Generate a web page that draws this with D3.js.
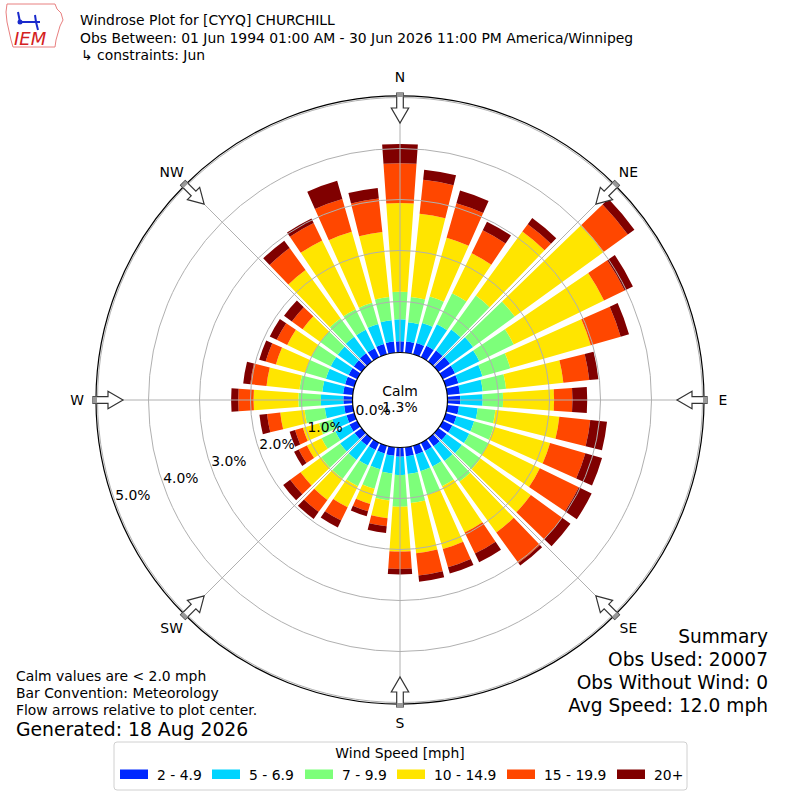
<!DOCTYPE html>
<html><head><meta charset="utf-8">
<script src="https://cdn.jsdelivr.net/npm/d3@7"></script>
<style>body{margin:0;background:#fff}svg{display:block}text{font-family:"DejaVu Sans",sans-serif}</style>
</head><body>
<script>
// ---- data (percent of observations) ----
const directions = [0,10,20,30,40,50,60,70,80,90,100,110,120,130,140,150,160,170,180,190,200,210,220,230,240,250,260,270,280,290,300,310,320,330,340,350];
const speedBins = ["2 - 4.9","5 - 6.9","7 - 9.9","10 - 14.9","15 - 19.9","20+"];
const binColors = ["#0028ff","#00d4ff","#7dff7a","#ffe500","#ff4700","#800000"];
const spd2_5   = [0.22,0.22,0.23,0.25,0.27,0.28,0.27,0.26,0.25,0.25,0.23,0.22,0.21,0.20,0.19,0.18,0.18,0.18,0.18,0.17,0.16,0.16,0.17,0.17,0.17,0.16,0.17,0.18,0.19,0.19,0.19,0.19,0.20,0.20,0.21,0.22];
const spd5_7   = [0.43,0.38,0.41,0.47,0.51,0.56,0.53,0.49,0.45,0.44,0.37,0.36,0.37,0.37,0.36,0.34,0.34,0.35,0.36,0.35,0.32,0.34,0.35,0.35,0.31,0.29,0.38,0.44,0.41,0.39,0.39,0.39,0.40,0.40,0.41,0.42];
const spd7_10  = [0.54,0.50,0.54,0.68,0.82,1.01,0.75,0.57,0.46,0.40,0.35,0.40,0.42,0.45,0.50,0.43,0.48,0.57,0.62,0.53,0.40,0.45,0.46,0.46,0.30,0.27,0.40,0.44,0.45,0.42,0.42,0.42,0.45,0.45,0.43,0.46];
const spd10_15 = [1.74,1.64,1.20,0.87,1.55,2.16,1.97,1.64,1.13,1.00,1.26,1.15,1.12,1.22,1.23,1.01,1.11,0.99,0.88,0.35,0.31,0.46,0.51,0.50,0.32,0.33,0.48,0.88,0.65,0.60,0.53,0.43,1.17,1.50,1.45,1.28];
const spd15_20 = [0.78,0.67,0.70,0.50,0.18,0.58,0.45,0.61,0.51,0.36,0.61,0.72,0.85,0.76,0.74,0.46,0.37,0.44,0.34,0.16,0.15,0.29,0.29,0.25,0.18,0.16,0.26,0.30,0.32,0.21,0.23,0.26,0.53,0.38,0.67,0.66];
const spd20p   = [0.38,0.20,0.26,0.19,0.15,0.16,0.18,0.17,0.18,0.29,0.33,0.34,0.28,0.20,0.06,0.19,0.13,0.12,0.11,0.13,0.10,0.15,0.17,0.17,0.10,0.11,0.15,0.14,0.14,0.13,0.15,0.19,0.18,0.10,0.37,0.21];
const radialTicks = [0,1,2,3,4,5];
const compassLabels = ["N","NE","E","SE","S","SW","W","NW"];
const compassAngles = [0,45,90,135,180,225,270,315];
const calmPct = 1.3;
const titleLines = ["Windrose Plot for [CYYQ] CHURCHILL","Obs Between: 01 Jun 1994 01:00 AM - 30 Jun 2026 11:00 PM America/Winnipeg","\u21B3 constraints: Jun"];
const leftNotes = ["Calm values are < 2.0 mph","Bar Convention: Meteorology","Flow arrows relative to plot center."];
const generated = "Generated: 18 Aug 2026";
const summaryLines = ["Summary","Obs Used: 20007","Obs Without Wind: 0","Avg Speed: 12.0 mph"];

const series = [spd2_5,spd5_7,spd7_10,spd10_15,spd15_20,spd20p];
const FS = 13.9;

const W = 800, H = 800, cx = 400, cy = 400;
const svg = d3.select("body").append("svg").attr("width",W).attr("height",H);

const r = d3.scaleLinear().domain([0,5]).range([47.5,302.5]);
const rad = d => d*Math.PI/180;

const g = svg.append("g").attr("transform",`translate(${cx},${cy})`);

// bars
const stackData = [];
directions.forEach((d,i)=>{
  let cum = 0;
  series.forEach((s,k)=>{
    stackData.push({dir:d, k:k, v0:cum, v1:cum+s[i]});
    cum += s[i];
  });
});
const half = 4;
const arc = d3.arc()
  .innerRadius(d=>r(d.v0)).outerRadius(d=>r(d.v1))
  .startAngle(d=>rad(d.dir-half)).endAngle(d=>rad(d.dir+half));
g.append("g").selectAll("path").data(stackData).join("path")
  .attr("d",arc).attr("fill",d=>binColors[d.k]);

// grid on top
const grid = g.append("g").attr("fill","none").attr("stroke","#b0b0b0").attr("stroke-width",1);
radialTicks.filter(t=>t>0).forEach(t=>{
  grid.append("circle").attr("r",r(t));
});
compassAngles.forEach(a=>{
  grid.append("line")
    .attr("x1",0).attr("y1",0)
    .attr("x2",r(5.05)*Math.sin(rad(a))).attr("y2",-r(5.05)*Math.cos(rad(a)));
});
// outer spine
g.append("circle").attr("r",r(5.03)).attr("fill","none").attr("stroke","#000").attr("stroke-width",1.2);

// calm circle
g.append("circle").attr("r",r(0)).attr("fill","#fff").attr("stroke","#000").attr("stroke-width",1.2);
g.append("text").attr("x",0).attr("y",-9).attr("text-anchor","middle").attr("dominant-baseline","central")
  .attr("font-size",FS).text("Calm");
g.append("text").attr("x",0).attr("y",7).attr("text-anchor","middle").attr("dominant-baseline","central")
  .attr("font-size",FS).text(calmPct.toFixed(1)+"%");

// radial labels
const labAng = rad(250.5);
radialTicks.forEach(t=>{
  const rr = r(t)-19;
  g.append("text").attr("x",rr*Math.sin(labAng)).attr("y",-rr*Math.cos(labAng))
    .attr("text-anchor","middle").attr("dominant-baseline","central")
    .attr("font-size",FS).text(t.toFixed(1)+"%");
});

// compass arrows and labels
const arrowPath = "M-3.3,-307 L3.3,-307 L3.3,-292 L8.7,-292 L0,-277 L-8.7,-292 L-3.3,-292 Z";
compassAngles.forEach((a,i)=>{
  g.append("path").attr("d",arrowPath).attr("transform",`rotate(${a})`)
    .attr("fill","#fff").attr("stroke","#333").attr("stroke-width",1.2);
  g.append("rect").attr("x",-3.3).attr("y",-307).attr("width",6.6).attr("height",4)
    .attr("transform",`rotate(${a})`).attr("fill","#999");
  const lr = 323;
  g.append("text").attr("x",lr*Math.sin(rad(a))).attr("y",-lr*Math.cos(rad(a)))
    .attr("text-anchor","middle").attr("dominant-baseline","central")
    .attr("font-size",FS).text(compassLabels[i]);
});

// title
titleLines.forEach((t,i)=>{
  svg.append("text").attr("x",i==2?81:80).attr("y",20+i*17.5).attr("dominant-baseline","central")
    .attr("font-size",FS).text(t);
});

// logo
const logo = svg.append("g");
logo.append("path").attr("d","M7,4 L55,4 L57,9 L61,13 L63,20 L60,26 L58,33 L56,40 L55,47 L13,47 L11,40 L9,31 L7,22 L6,12 Z")
  .attr("fill","none").attr("stroke","#e88080").attr("stroke-width",1);
logo.append("text").attr("x",14).attr("y",45).attr("font-family","'Liberation Serif',serif")
  .attr("font-style","italic").attr("font-size",18).attr("fill","#d42020").text("IEM");
logo.append("path").attr("d","M20,22 L40,22 M35,15 L36,22 M36,22 L38,30 M18,12 L20,22")
  .attr("fill","none").attr("stroke","#1a2acc").attr("stroke-width",2);
logo.append("circle").attr("cx",20).attr("cy",22).attr("r",2.5).attr("fill","#1a2acc");

// left notes
leftNotes.forEach((t,i)=>{
  svg.append("text").attr("x",16).attr("y",676+i*17).attr("dominant-baseline","central")
    .attr("font-size",FS).text(t);
});
svg.append("text").attr("x",16).attr("y",729).attr("dominant-baseline","central")
  .attr("font-size",18.8).text(generated);

// summary
summaryLines.forEach((t,i)=>{
  svg.append("text").attr("x",768).attr("y",636+i*23.3).attr("text-anchor","end").attr("dominant-baseline","central")
    .attr("font-size",18.6).text(t);
});

// legend
const lg = svg.append("g");
lg.append("rect").attr("x",114).attr("y",742).attr("width",573).attr("height",48).attr("rx",3)
  .attr("fill","#fff").attr("stroke","#d0d0d0").attr("stroke-width",1);
lg.append("text").attr("x",400).attr("y",753).attr("text-anchor","middle").attr("dominant-baseline","central")
  .attr("font-size",FS).text("Wind Speed [mph]");
const legX = [120,212,305,397,507,617];
speedBins.forEach((b,i)=>{
  lg.append("rect").attr("x",legX[i]).attr("y",769.5).attr("width",28).attr("height",9.5).attr("fill",binColors[i]);
  lg.append("text").attr("x",legX[i]+37).attr("y",774.5).attr("dominant-baseline","central")
    .attr("font-size",FS).text(b);
});
</script>
</body></html>
